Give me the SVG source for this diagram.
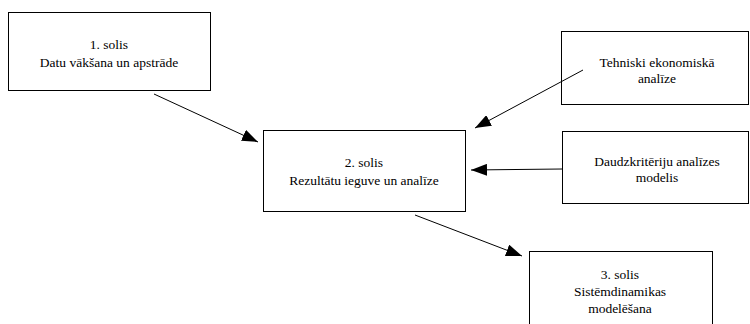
<svg xmlns="http://www.w3.org/2000/svg" width="750" height="324" viewBox="0 0 750 324">
<style>
.box{fill:#fff;stroke:#000;stroke-width:1}
.t{font-family:'Liberation Serif','DejaVu Serif','Times New Roman',serif;font-size:13.5px;fill:#000;text-anchor:middle}
.c{stroke:#000;stroke-width:1;fill:none;marker-end:url(#ah)}
</style>
<defs>
<marker id="ah" viewBox="0 0 16 12" refX="16" refY="6" markerWidth="16" markerHeight="12" markerUnits="userSpaceOnUse" orient="auto">
<path d="M0,0 L16,6 L0,12 Z" fill="#000"/>
</marker>
</defs>
<g id="n1"><rect class="box" x="8.5" y="12.5" width="202" height="78"/>
<text class="t" x="109" y="49">1. solis</text><text class="t" x="109" y="67">Datu vākšana un apstrāde</text></g>
<g id="n2"><rect class="box" x="263.5" y="130.5" width="202" height="81"/>
<text class="t" x="364" y="167">2. solis</text><text class="t" x="364" y="185">Rezultātu ieguve un analīze</text></g>
<g id="n3"><rect class="box" x="561.5" y="31.5" width="187" height="73"/>
<text class="t" x="657" y="67">Tehniski ekonomiskā</text><text class="t" x="657" y="83">analīze</text></g>
<g id="n4"><rect class="box" x="562.5" y="131.5" width="186" height="72"/>
<text class="t" x="657" y="166">Daudzkritēriju analīzes</text><text class="t" x="657" y="182">modelis</text></g>
<g id="n5"><rect class="box" x="529.5" y="251.5" width="183" height="80"/>
<text class="t" x="620" y="279">3. solis</text><text class="t" x="620" y="296">Sistēmdinamikas</text><text class="t" x="620" y="313">modelēšana</text></g>
<g id="connectors">
<line class="c" x1="154" y1="94" x2="258" y2="142"/>
<line class="c" x1="583" y1="70" x2="475" y2="128"/>
<line class="c" x1="562" y1="169" x2="471" y2="170"/>
<line class="c" x1="415" y1="215" x2="522" y2="256"/>
</g>
</svg>
